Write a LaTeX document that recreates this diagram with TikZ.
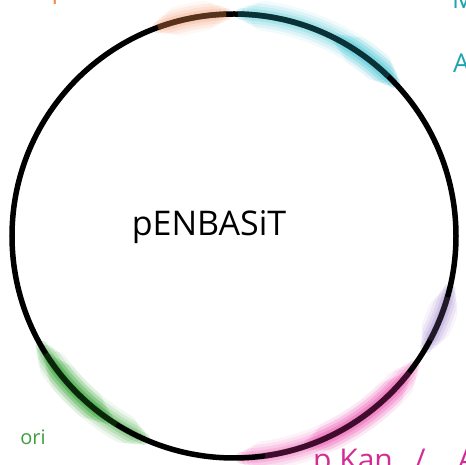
\documentclass[tikz,border=0pt]{standalone}
\usepackage{fontspec}
\setmainfont{Open Sans}
\definecolor{gorange}{HTML}{F39A72}
\definecolor{gcyan}{HTML}{4FC6D6}
\definecolor{gpurple}{HTML}{9B7DC9}
\definecolor{gpink}{HTML}{EC5DB4}
\definecolor{ggreen}{HTML}{2E9E2E}
\definecolor{torange}{HTML}{F08A4C}
\definecolor{tcyan}{HTML}{1FA3B3}
\definecolor{tgreen}{HTML}{3E9E3E}
\definecolor{tpink}{HTML}{D02E93}
\begin{document}
\begin{tikzpicture}[x=1pt,y=1pt,
  ring/.style={line width=5.5pt,black},
  lbl/.style={inner sep=0pt,font=\fontsize{26}{26}\selectfont}]
\useasboundingbox (0,0) rectangle (466,465);
\clip (0,0) rectangle (466,465);
\coordinate (c) at (234,229);
% glows
\newcommand{\glow}[3]{% color, start, end
  \foreach \w/\o/\s in {30/0.08/6,24/0.12/4,18/0.16/2,12/0.22/0,7/0.3/0}{
    \draw[#1,line width=\w pt,opacity=\o,line cap=round]
      ([shift={(#2+\s:222)}]c) arc[start angle=#2+\s,end angle=#3-\s,radius=222];
  }
}
\glow{gorange}{92}{110}
\glow{gcyan}{44}{88}
\glow{gcyan}{44}{62}
\glow{gpurple}{-30}{-14}
\glow{gpink}{-88}{-36}
\glow{gpink}{-70}{-40}
\glow{ggreen}{-150}{-114}
\glow{ggreen}{-146}{-125}
\draw[ring] (c) circle[radius=222];
% tints of the line
\draw[torange!60!black,line width=5.5pt,opacity=0.6] ([shift={(92:222)}]c) arc[start angle=92,end angle=110,radius=222];
\draw[tcyan!50!black,line width=5.5pt,opacity=0.6] ([shift={(46:222)}]c) arc[start angle=46,end angle=89,radius=222];
\draw[tpink!50!black,line width=5.5pt,opacity=0.6] ([shift={(-82:222)}]c) arc[start angle=-82,end angle=-38,radius=222];
\draw[gpurple!40!black,line width=5.5pt,opacity=0.5] ([shift={(-28:222)}]c) arc[start angle=-28,end angle=-16,radius=222];
\draw[ggreen!50!black,line width=5.5pt,opacity=0.5] ([shift={(-148:222)}]c) arc[start angle=-148,end angle=-122,radius=222];
% texts
\node[lbl,font=\fontsize{34}{34}\selectfont] (title) at (209,238) {pENBASiT};
\node[lbl,text=torange] (tl) at (57,468) {r};
\node[lbl,text=tcyan,anchor=west] (tr1) at (452,466) {M};
\node[lbl,text=tcyan,anchor=west] (tr2) at (453,402) {A};
\node[lbl,text=tgreen,font=\fontsize{20}{20}\selectfont] (ori) at (33,28) {ori};
\node[lbl,text=tpink,anchor=base west,font=\fontsize{30}{30}\selectfont] (pk) at (313,-6) {p Kan {\kern14pt}/{\kern32pt}A};
\end{tikzpicture}
\end{document}
